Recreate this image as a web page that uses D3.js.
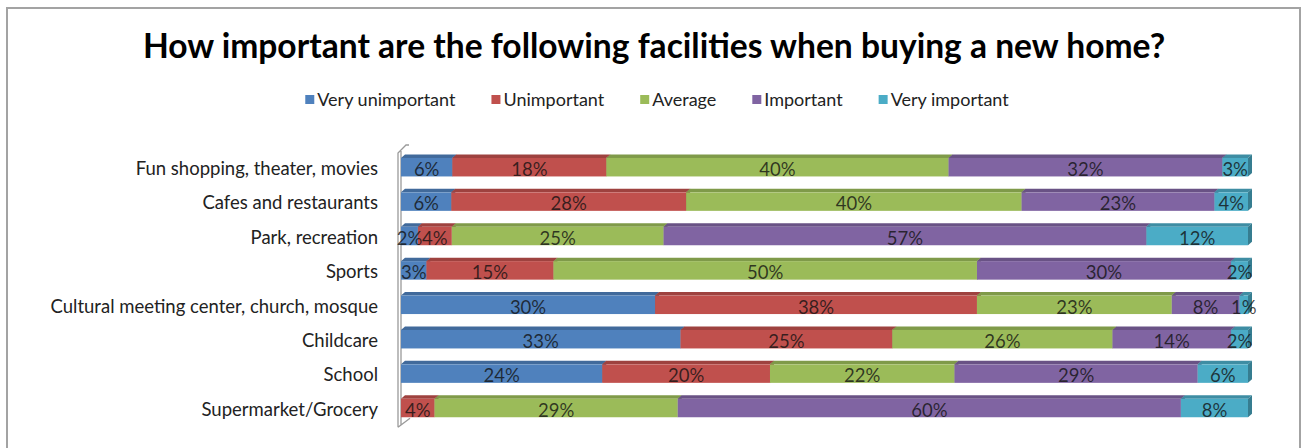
<!DOCTYPE html>
<html>
<head>
<meta charset="utf-8">
<script src="https://cdn.jsdelivr.net/npm/d3@7"></script>
<style>
  html, body { margin: 0; padding: 0; background: #fff; }
  svg { display: block; }
</style>
</head>
<body>
<svg id="chart" width="1307" height="448"></svg>
<script>
// Survey: importance of neighbourhood facilities when buying a new home
const categories = [
  "Fun shopping, theater, movies",
  "Cafes and  restaurants",
  "Park, recreation",
  "Sports",
  "Cultural meeting center, church, mosque",
  "Childcare",
  "School",
  "Supermarket/Grocery"
];
const seriesNames = ["Very unimportant", "Unimportant", "Average", "Important", "Very important"];
const veryUnimportant = [6, 6, 2, 3, 30, 33, 24, 0];
const unimportant     = [18, 28, 4, 15, 38, 25, 20, 4];
const average         = [40, 40, 25, 50, 23, 26, 22, 29];
const important       = [32, 23, 57, 30, 8, 14, 29, 60];
const veryImportant   = [3, 4, 12, 2, 1, 2, 6, 8];
const seriesColors = ["#4f81bd", "#c0504d", "#9bbb59", "#8064a2", "#4bacc6"];

const seriesValues = [veryUnimportant, unimportant, average, important, veryImportant];
const rows = categories.map((c, i) => {
  const r = { category: c };
  seriesNames.forEach((s, k) => { r[s] = seriesValues[k][i]; });
  return r;
});

const svg = d3.select("#chart");
const W = 1307;
const font = "Lato, 'Open Sans', sans-serif";

// outer chart frame
svg.append("rect")
  .attr("x", 7).attr("y", 8).attr("width", W - 14).attr("height", 460)
  .attr("fill", "#fff").attr("stroke", "#a3a3a3").attr("stroke-width", 2);

// title
svg.append("text")
  .attr("x", 654).attr("y", 58)
  .attr("text-anchor", "middle")
  .attr("font-family", font).attr("font-weight", "bold")
  .attr("font-size", 33.6).attr("fill", "#000")
  .text("How important are the following facilities when buying a new home?");

// legend, centred
const legend = svg.append("g").attr("font-family", font).attr("font-size", 18);
const items = legend.selectAll("g").data(seriesNames).join("g");
items.append("rect").attr("width", 9).attr("height", 9).attr("y", -11)
  .attr("fill", (d, i) => seriesColors[i]);
items.append("text").attr("x", 12).attr("y", 0).attr("fill", "#222").text(d => d);
let cursor = 0;
items.each(function () {
  const g = d3.select(this);
  const w = 12 + g.select("text").node().getComputedTextLength();
  g.attr("transform", `translate(${cursor},0)`);
  cursor += w + 36;
});
const legendWidth = cursor - 36;
legend.attr("transform", `translate(${657 - legendWidth / 2},106)`);

// scales
const x = d3.scaleLinear().domain([0, 1]).range([401, 1248]);
const y = d3.scaleBand().domain(categories).range([150, 425.2])
  .paddingInner(0.4622).paddingOuter(0.2311);
const depthX = 4, depthY = 3.5;

const stack = d3.stack().keys(seriesNames).offset(d3.stackOffsetExpand);
const stacked = stack(rows);

// left 3D wall
const wallTop = y.range()[0] - 5, wallBottom = y.range()[1] + 2;
const wx = x(0) - 3;
svg.append("path")
  .attr("d", `M${wx},${wallBottom} L${wx},${wallTop + 8} L${wx + 8},${wallTop} L${wx + 11},${wallTop}
              M${wx},${wallBottom} L${wx + 12},${wallBottom - 9}
              M${wx + 3},${wallTop + 6} L${wx + 3},${wallBottom - 2}`)
  .attr("fill", "none").attr("stroke", "#9a9a9a").attr("stroke-width", 1.3);

// stacked 3D bars
const bars = svg.append("g");
stacked.forEach((layer, k) => {
  const color = d3.color(seriesColors[k]);
  const top = color.darker(0.55).formatHex();
  const side = color.darker(0.9).formatHex();
  layer.forEach((seg, i) => {
    const x0 = x(seg[0]), x1 = x(seg[1]);
    if (x1 - x0 <= 0) return;
    const y0 = y(categories[i]), h = y.bandwidth();
    const g = bars.append("g");
    g.append("path")
      .attr("d", `M${x0},${y0} L${x1},${y0} L${x1 + depthX},${y0 - depthY} L${x0 + depthX},${y0 - depthY}Z`)
      .attr("fill", top);
    g.append("path")
      .attr("d", `M${x1},${y0} L${x1 + depthX},${y0 - depthY} L${x1 + depthX},${y0 + h - depthY} L${x1},${y0 + h}Z`)
      .attr("fill", side);
    g.append("rect")
      .attr("x", x0).attr("y", y0).attr("width", x1 - x0).attr("height", h)
      .attr("fill", color.formatHex());
  });
});

// value labels
const labels = svg.append("g").attr("font-family", font).attr("font-size", 18.5)
  .attr("text-anchor", "middle").attr("fill", "#111").attr("fill-opacity", 0.78);
stacked.forEach((layer, k) => {
  layer.forEach((seg, i) => {
    const v = seriesValues[k][i];
    if (!v) return;
    labels.append("text")
      .attr("x", (x(seg[0]) + x(seg[1])) / 2)
      .attr("y", y(categories[i]) + y.bandwidth() - 0.5)
      .text(v + "%");
  });
});

// category axis labels
svg.append("g").attr("font-family", font).attr("font-size", 18.5).attr("fill", "#222")
  .selectAll("text").data(categories).join("text")
  .attr("x", 378).attr("text-anchor", "end")
  .attr("y", d => y(d) + y.bandwidth() - 1.5)
  .text(d => d);
</script>
</body>
</html>
